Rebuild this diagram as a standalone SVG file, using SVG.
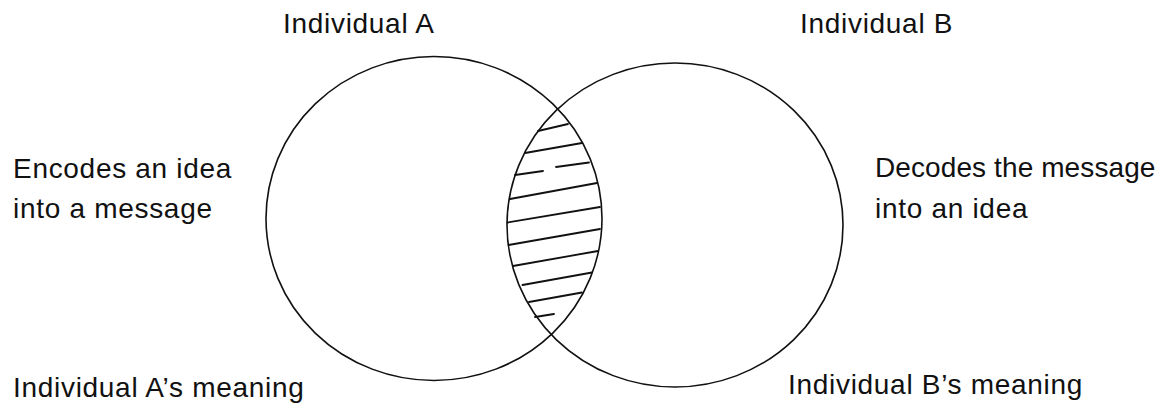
<svg xmlns="http://www.w3.org/2000/svg" width="1165" height="407" viewBox="0 0 1165 407">
<style>
text{font-family:"Liberation Sans",Arial,sans-serif;font-size:28px;letter-spacing:0.7px;fill:#111}
text.t{letter-spacing:0.1px}
.c{fill:none;stroke:#111;stroke-width:1.6}
.h{stroke:#111;stroke-width:1.8;stroke-linecap:round}
</style>
<rect width="1165" height="407" fill="#fff"/>
<g id="individual-a">
<ellipse class="c" cx="434" cy="218.5" rx="168" ry="162"/>
<text x="283" y="33">Individual A</text>
<text x="13" y="178">Encodes an idea</text>
<text x="13" y="218">into a message</text>
<text x="13" y="397">Individual A’s meaning</text>
</g>
<g id="individual-b">
<ellipse class="c" cx="675" cy="225" rx="168" ry="162"/>
<text x="800" y="33">Individual B</text>
<text class="t" x="875" y="177">Decodes the message</text>
<text x="875" y="218">into an idea</text>
<text x="788" y="394">Individual B’s meaning</text>
</g>
<g id="overlap">
<line class="h" x1="538" y1="131" x2="568" y2="124"/>
<line class="h" x1="525" y1="153" x2="582" y2="143"/>
<line class="h" x1="515" y1="175" x2="543" y2="171"/>
<line class="h" x1="556" y1="167" x2="589" y2="162.5"/>
<line class="h" x1="510" y1="199" x2="597" y2="183"/>
<line class="h" x1="507.5" y1="222.5" x2="600" y2="207"/>
<line class="h" x1="508.5" y1="245" x2="600" y2="229"/>
<line class="h" x1="513" y1="266" x2="598" y2="251"/>
<line class="h" x1="522.5" y1="285" x2="592" y2="272.5"/>
<line class="h" x1="529" y1="302" x2="582" y2="292.5"/>
<line class="h" x1="535" y1="317" x2="554" y2="314"/>
</g>
<g id="connectors"></g>
</svg>
